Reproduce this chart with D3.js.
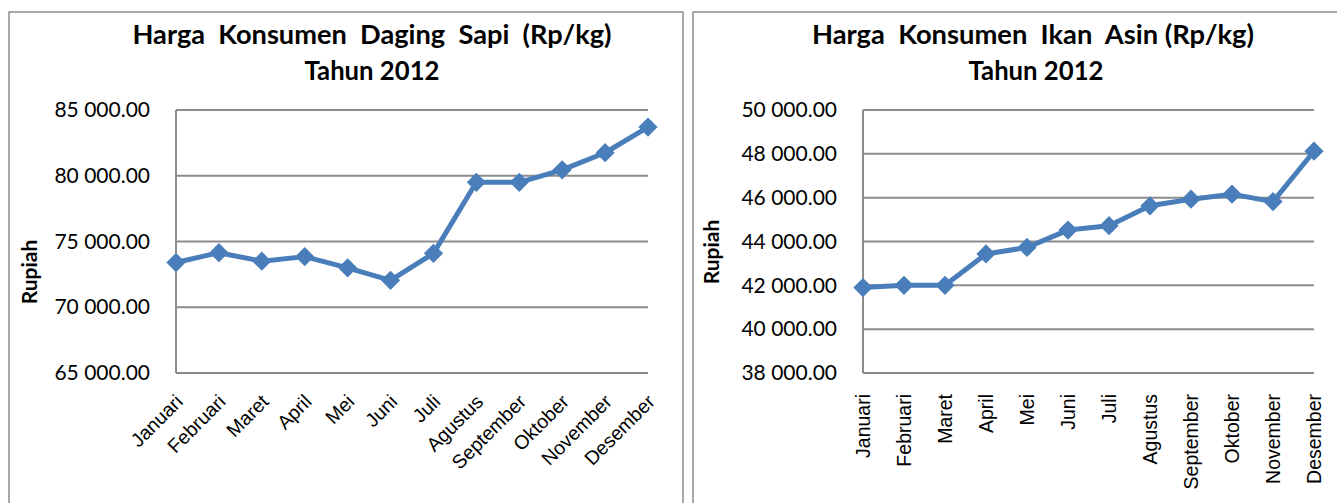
<!DOCTYPE html>
<html><head><meta charset="utf-8">
<script src="https://cdn.jsdelivr.net/npm/d3@7"></script>
<style>html,body{margin:0;padding:0;background:#fff;}svg{display:block;}</style>
</head><body>
<svg id="c" width="1337" height="503"></svg>
<script>
const months = ["Januari","Februari","Maret","April","Mei","Juni","Juli","Agustus","September","Oktober","November","Desember"];
const dagingSapi = [73400,74150,73500,73850,73000,72050,74100,79500,79500,80450,81750,83700];
const ikanAsin = [41900,42000,42000,43430,43730,44520,44720,45630,45930,46160,45820,48120];
const ticksSapi = [65000,70000,75000,80000,85000];
const ticksIkan = [38000,40000,42000,44000,46000,48000,50000];
const titleSapi = ["Harga  Konsumen  Daging  Sapi  (Rp/kg)", "Tahun 2012"];
const titleIkan = ["Harga  Konsumen  Ikan  Asin (Rp/kg)", "Tahun 2012"];
const yLabel = "Rupiah";

const svg = d3.select("#c");
const fmt = v => d3.format(",.2f")(v).replace(/,/g, " ");
const gray = "#8c8c8c", blue = "#4a7ebb";

// panel borders
svg.append("rect").attr("x",9).attr("y",12).attr("width",674).attr("height",520)
  .attr("fill","none").attr("stroke",gray).attr("stroke-width",1.5);
svg.append("rect").attr("x",693).attr("y",12).attr("width",700).attr("height",520)
  .attr("fill","none").attr("stroke",gray).attr("stroke-width",1.5);

function chart(cfg) {
  const g = svg.append("g");
  const x = d3.scalePoint().domain(months).range([cfg.x0, cfg.x1]).padding(0);
  const y = d3.scaleLinear().domain([cfg.ticks[0], cfg.ticks[cfg.ticks.length-1]]).range([373,110]);

  // titles
  g.append("text").attr("x",cfg.tx).attr("y",44).attr("text-anchor","middle")
    .attr("font-family","Lato, 'Open Sans', sans-serif").attr("font-weight","bold").attr("font-size",26)
    .attr("textLength",cfg.tw).attr("lengthAdjust","spacingAndGlyphs")
    .style("white-space","pre").text(cfg.title[0]);
  g.append("text").attr("x",cfg.tx2).attr("y",80).attr("text-anchor","middle")
    .attr("font-family","Lato, 'Open Sans', sans-serif").attr("font-weight","bold").attr("font-size",26)
    .attr("textLength",135).attr("lengthAdjust","spacingAndGlyphs")
    .text(cfg.title[1]);

  // gridlines
  g.append("g").selectAll("line").data(cfg.ticks).join("line")
    .attr("x1",cfg.x0).attr("x2",cfg.x1).attr("y1",d=>y(d)).attr("y2",d=>y(d))
    .attr("stroke",gray).attr("stroke-width",2);
  // y axis line
  g.append("line").attr("x1",cfg.x0).attr("x2",cfg.x0).attr("y1",y.range()[1]).attr("y2",y.range()[0])
    .attr("stroke",gray).attr("stroke-width",2);

  // y axis labels
  const yAxis = d3.axisLeft(y).tickValues(cfg.ticks).tickFormat(fmt).tickSize(0).tickPadding(26);
  const ya = g.append("g").attr("transform",`translate(${cfg.x0},0)`).call(yAxis);
  ya.select(".domain").remove();
  ya.selectAll("text").attr("font-family","Lato, 'Open Sans', sans-serif").attr("font-size",21).attr("fill","#000");

  // x axis labels
  const xa = g.append("g");
  xa.selectAll("text").data(months).join("text")
    .attr("font-family","'Liberation Sans', Arial, sans-serif").attr("font-size",19.5).attr("fill","#000")
    .attr("text-anchor","end")
    .attr("transform", d => cfg.rot === -45
      ? `translate(${x(d)+8},403) rotate(-45)`
      : `translate(${x(d)+7},394) rotate(-90)`)
    .text(d=>d);

  // Y axis title
  g.append("text").attr("transform",`translate(${cfg.ryx},${cfg.ryy}) rotate(-90)`)
    .attr("text-anchor","middle").attr("font-family","Lato, 'Open Sans', sans-serif")
    .attr("font-weight","bold").attr("font-size",21).text(yLabel);

  // line
  const line = d3.line().x((d,i)=>x(months[i])).y(d=>y(d));
  g.append("path").datum(cfg.values).attr("d",line).attr("fill","none")
    .attr("stroke",blue).attr("stroke-width",5).attr("stroke-linejoin","round");
  g.append("g").selectAll("path").data(cfg.values).join("path")
    .attr("d", d3.symbol(d3.symbolSquare).size(185))
    .attr("transform",(d,i)=>`translate(${x(months[i])},${y(d)}) rotate(45)`)
    .attr("fill",blue);
}

chart({x0:176,x1:648,ticks:ticksSapi,values:dagingSapi,title:titleSapi,tx:372,tx2:372,tw:479,rot:-45,ryx:37,ryy:272});
chart({x0:863,x1:1314,ticks:ticksIkan,values:ikanAsin,title:titleIkan,tx:1033,tx2:1036,tw:442,rot:-90,ryx:719,ryy:252});
</script>
</body></html>
